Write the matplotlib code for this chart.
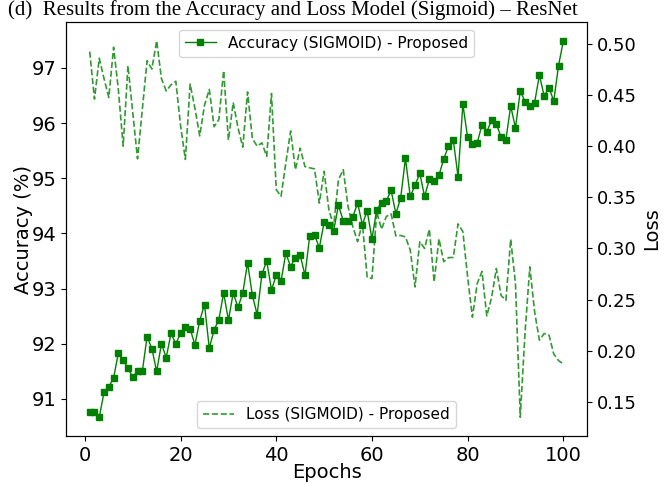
import matplotlib
matplotlib.use("Agg")
import matplotlib.pyplot as plt
import numpy as np

epochs = list(range(1, 101))

accuracy = [
    90.77, 90.77, 90.67, 91.12, 91.22, 91.38, 91.84, 91.70, 91.56, 91.39,
    91.50, 91.50, 92.13, 91.91, 91.50, 92.00, 91.75, 92.19, 92.00, 92.19,
    92.30, 92.27, 91.98, 92.42, 92.71, 91.92, 92.25, 92.44, 92.92, 92.43,
    92.92, 92.66, 92.92, 93.47, 92.88, 92.53, 93.26, 93.50, 92.98, 93.24,
    93.14, 93.64, 93.40, 93.56, 93.61, 93.24, 93.96, 93.97, 93.74, 94.20,
    94.15, 94.05, 94.51, 94.23, 94.22, 94.30, 94.55, 94.16, 94.41, 93.90,
    94.43, 94.55, 94.59, 94.78, 94.36, 94.64, 95.36, 94.67, 94.87, 95.09,
    94.67, 94.98, 94.95, 95.05, 95.35, 95.58, 95.69, 95.03, 96.34, 95.74,
    95.62, 95.64, 95.97, 95.84, 96.05, 95.99, 95.74, 95.70, 96.31, 95.91,
    96.58, 96.39, 96.31, 96.37, 96.87, 96.49, 96.64, 96.40, 97.04, 97.49,
]

loss = [
    0.4925, 0.446, 0.486, 0.466, 0.4476, 0.4967, 0.455, 0.400, 0.4787, 0.433,
    0.3876, 0.436, 0.4836, 0.4754, 0.503, 0.466, 0.454, 0.460, 0.4635, 0.420,
    0.387, 0.4607, 0.437, 0.410, 0.440, 0.4555, 0.419, 0.426, 0.4738, 0.406,
    0.4427, 0.418, 0.399, 0.453, 0.4075, 0.400, 0.4033, 0.390, 0.4515, 0.3574,
    0.351, 0.3837, 0.4148, 0.377, 0.398, 0.380, 0.3788, 0.3778, 0.3443, 0.3754,
    0.3378, 0.322, 0.3673, 0.377, 0.341, 0.3213, 0.3066, 0.3247, 0.2716, 0.2706,
    0.336, 0.3188, 0.3312, 0.3338, 0.3122, 0.3127, 0.3112, 0.2984, 0.2623, 0.3066,
    0.300, 0.3188, 0.2673, 0.3095, 0.287, 0.291, 0.2912, 0.324, 0.3165, 0.272,
    0.2328, 0.2657, 0.2775, 0.234, 0.2518, 0.2804, 0.254, 0.2493, 0.309, 0.2657,
    0.135, 0.218, 0.282, 0.238, 0.2103, 0.2168, 0.2153, 0.1968, 0.1903, 0.187,
]

x_ticks = [0, 20, 40, 60, 80, 100]
acc_ticks = [91, 92, 93, 94, 95, 96, 97]
loss_ticks = [0.15, 0.20, 0.25, 0.30, 0.35, 0.40, 0.45, 0.50]

acc_label = "Accuracy (SIGMOID) - Proposed"
loss_label = "Loss (SIGMOID) - Proposed"
title_text = "(d)  Results from the Accuracy and Loss Model (Sigmoid) \u2013 ResNet"

plt.rcParams['font.family'] = ['DejaVu Sans']

fig = plt.figure(figsize=(6.66, 4.83), dpi=100)
ax = fig.add_axes([66/666, 1-436/483, (587-66)/666, (436-22)/483])
ax2 = ax.twinx()

l1, = ax.plot(epochs, accuracy, color='green', marker='s', markersize=4.5,
              linewidth=1.0, label=acc_label)
l2, = ax2.plot(epochs, loss, color='green', linestyle='--', linewidth=1.2,
               alpha=0.8, label=loss_label)

ax.set_xlabel("Epochs", fontsize=14, labelpad=-1)
ax.set_ylabel("Accuracy (%)", fontsize=14, labelpad=-1)
ax2.set_ylabel("Loss", fontsize=14)
ax.tick_params(labelsize=14)
ax2.tick_params(labelsize=13)
ax.set_xticks(x_ticks)
ax.set_yticks(acc_ticks)
ax2.set_yticks(loss_ticks)
ax2.set_yticklabels([f"{v:.2f}" for v in loss_ticks])

ax.legend(handles=[l1], loc='upper center', fontsize=11)
ax2.legend(handles=[l2], loc='lower center', fontsize=11)

fig.text(8/666, 1-15/483, title_text, fontsize=15, va='baseline', ha='left',
         family=['Liberation Serif'])

fig.savefig("out.png", dpi=100)
